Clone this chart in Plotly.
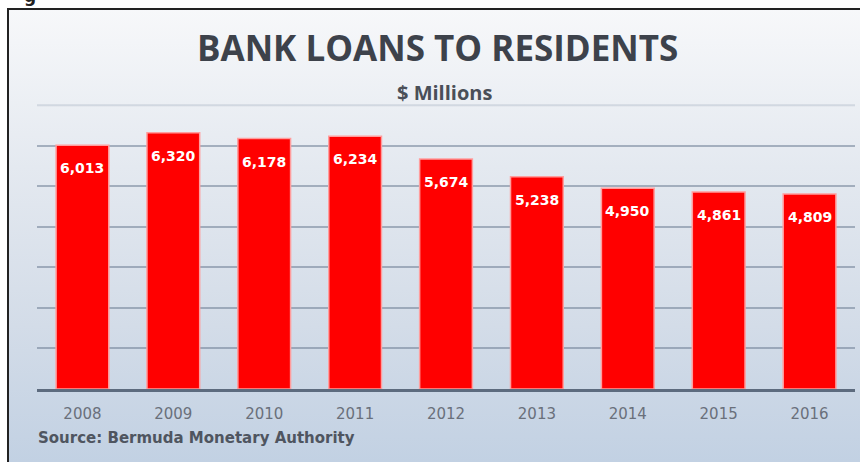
import base64
import plotly.graph_objects as go

# Bank loans to residents, $ millions
years = ["2008", "2009", "2010", "2011", "2012", "2013", "2014", "2015", "2016"]
loans = [6013, 6320, 6178, 6234, 5674, 5238, 4950, 4861, 4809]
y_ticks = [0, 1000, 2000, 3000, 4000, 5000, 6000]
y_top_line = 7000

title_text = "BANK LOANS TO RESIDENTS"
subtitle_text = "$ Millions"
source_text = "Source: Bermuda Monetary Authority"

W, H = 860, 462
ML, MR, MT, MB = 37, 5, 104, 73
PW = W - ML - MR
PH = H - MT - MB
Y_MAX = 7030


def px_x(px):
    return (px - ML) / PW


def px_y(py):
    return (H - MB - py) / PH


# vertical background gradient for the framed panel
svg = (
    '<svg xmlns="http://www.w3.org/2000/svg" width="100" height="100" preserveAspectRatio="none">'
    '<defs><linearGradient id="g" x1="0" y1="0" x2="0" y2="1">'
    '<stop offset="0" stop-color="#f7f8fa"/>'
    '<stop offset="0.35" stop-color="#e4e9f0"/>'
    '<stop offset="0.7" stop-color="#d3dce8"/>'
    '<stop offset="1" stop-color="#c2d1e3"/>'
    '</linearGradient></defs>'
    '<rect width="100" height="100" fill="url(#g)"/></svg>'
)
bg_uri = "data:image/svg+xml;base64," + base64.b64encode(svg.encode()).decode()

fig = go.Figure()
fig.add_trace(go.Bar(
    x=years,
    y=loans,
    marker=dict(color="#ff0000", line=dict(color="#ff9d9d", width=1.5)),
    hoverinfo="x+y",
))

annotations = []
# value labels inside the top of each bar (x given as category index)
for i, v in enumerate(loans):
    annotations.append(dict(
        x=i, y=v, xref="x", yref="y", text=f"{v:,}", showarrow=False,
        yanchor="middle", yshift=-23,
        font=dict(family="DejaVu Sans", size=14, color="white", weight="bold"),
    ))

annotations += [
    dict(text=title_text, x=px_x(437), y=px_y(47), xref="paper", yref="paper",
         xanchor="center", yanchor="middle", showarrow=False,
         font=dict(family="Open Sans", size=35, color="#3d424b", weight="bold")),
    dict(text=subtitle_text, x=px_x(444), y=px_y(92), xref="paper", yref="paper",
         xanchor="center", yanchor="middle", showarrow=False,
         font=dict(family="Open Sans", size=20, color="#4a4f58", weight="bold")),
    dict(text=source_text, x=px_x(36), y=px_y(438), xref="paper", yref="paper",
         xanchor="left", yanchor="middle", showarrow=False,
         font=dict(family="DejaVu Sans", size=15, color="#4f5560", weight="bold")),
    dict(text="g", x=px_x(22), y=px_y(8), xref="paper", yref="paper",
         xanchor="left", yanchor="bottom", showarrow=False,
         font=dict(family="DejaVu Sans", size=17, color="#222222", weight="bold")),
]

fig.update_layout(
    width=W, height=H,
    margin=dict(l=ML, r=MR, t=MT, b=MB),
    paper_bgcolor="white",
    plot_bgcolor="rgba(0,0,0,0)",
    bargap=0.42,
    showlegend=False,
    annotations=annotations,
    images=[dict(
        source=bg_uri, xref="paper", yref="paper",
        x=px_x(8), y=px_y(9), sizex=(W - 8) / PW, sizey=(H - 9) / PH,
        xanchor="left", yanchor="top", sizing="stretch", layer="below",
    )],
    shapes=[
        # faint top gridline
        dict(type="line", xref="paper", yref="y", x0=0, x1=1,
             y0=y_top_line, y1=y_top_line,
             line=dict(color="rgba(120,135,158,0.22)", width=2), layer="below"),
        # outer frame
        dict(type="rect", xref="paper", yref="paper",
             x0=px_x(8), y0=px_y(H + 10), x1=px_x(W + 10), y1=px_y(9),
             line=dict(color="#222222", width=2), fillcolor="rgba(0,0,0,0)", layer="above"),
    ],
)

fig.update_xaxes(
    type="category", range=[-0.5, len(years) - 0.5],
    showline=True, linecolor="#5d6b7e", linewidth=3,
    ticks="outside", ticklen=9, tickcolor="rgba(0,0,0,0)",
    tickfont=dict(family="DejaVu Sans", size=15, color="#6a707b"),
    showgrid=False,
)
fig.update_yaxes(
    range=[0, Y_MAX], tickvals=y_ticks, showticklabels=False,
    showgrid=True, gridcolor="rgba(110,125,148,0.55)", gridwidth=2,
    zeroline=False,
)

fig.write_html("out.html")
